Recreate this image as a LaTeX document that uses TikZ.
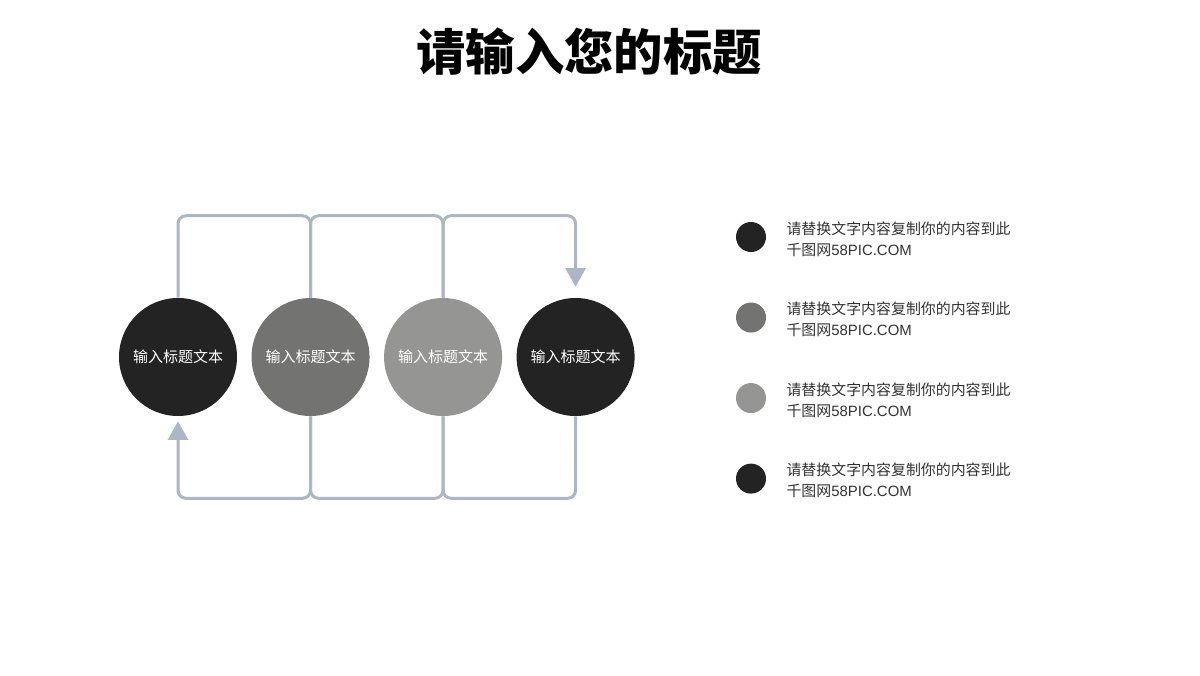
\documentclass[tikz,border=0pt]{standalone}
\usepackage{fontspec}
\usepackage{tikz}
\usetikzlibrary{positioning,arrows.meta}
\newfontfamily\cjk{Noto Sans CJK SC}
\newfontfamily\latinsans{Liberation Sans}
\definecolor{darkdot}{HTML}{232323}
\definecolor{middot}{HTML}{737471}
\definecolor{lightdot}{HTML}{959694}
\definecolor{linkgray}{HTML}{ADB6C5}
\definecolor{legtextcol}{HTML}{333333}

\begin{document}
\begin{tikzpicture}[%
    x=0.75pt,
    y=-0.75pt,
    >={Triangle[width=15pt,length=14pt]},
    node distance=10.5pt,
    stepdot/.style={%
      circle,
      minimum size=88.5pt,
      inner sep=0pt,
      text=white,
      font=\cjk\fontsize{11.25}{13}\selectfont
    },
    link/.style={%
      draw=linkgray,
      line width=2.25pt,
      rounded corners=6pt
    },
    legdot/.style={circle, minimum size=22.5pt, inner sep=0pt},
    legtext/.style={%
      align=left,
      inner sep=0pt,
      yshift=-1.5pt,
      text=legtextcol,
      font=\cjk\fontsize{11.2}{15.75}\selectfont
    }
  ]
    \useasboundingbox (0,0) rectangle (1200,675);
    \node[font=\cjk\bfseries\fontsize{37}{40}\selectfont] (title) at (589,52) {请输入您的标题};

    \node[stepdot, fill=darkdot] (s1) at (178,357)         {输入标题文本};
    \node[stepdot, fill=middot] (s2) [right=of s1]   {输入标题文本};
    \node[stepdot, fill=lightdot] (s3) [right=of s2] {输入标题文本};
    \node[stepdot, fill=darkdot] (s4) [right=of s3]  {输入标题文本};

    \draw[link] (s1.north) -- ++(0,-82) -| (s2.north);
    \draw[link] (s2.north) -- ++(0,-82) -| (s3.north);
    \draw[link, ->, shorten >=8.25pt] (s3.north) -- ++(0,-82) -| (s4.north);
    \draw[link] (s4.south) -- ++(0,82) -| (s3.south);
    \draw[link] (s3.south) -- ++(0,82) -| (s2.south);
    \draw[link, ->, shorten >=3.75pt] (s2.south) -- ++(0,82) -| (s1.south);

    \node[legdot, fill=darkdot] (d1) at (751,237) {};
    \node[legdot, fill=middot] (d2) [below=37.5pt of d1] {};
    \node[legdot, fill=lightdot] (d3) [below=37.5pt of d2] {};
    \node[legdot, fill=darkdot] (d4) [below=37.5pt of d3] {};

    \node[legtext] (t1) [right=15pt of d1] {请替换文字内容复制你的内容到此\\千图网{\latinsans 58PIC.COM}};
    \node[legtext] (t2) [right=15pt of d2] {请替换文字内容复制你的内容到此\\千图网{\latinsans 58PIC.COM}};
    \node[legtext] (t3) [right=15pt of d3] {请替换文字内容复制你的内容到此\\千图网{\latinsans 58PIC.COM}};
    \node[legtext] (t4) [right=15pt of d4] {请替换文字内容复制你的内容到此\\千图网{\latinsans 58PIC.COM}};
  \end{tikzpicture}
\end{document}
